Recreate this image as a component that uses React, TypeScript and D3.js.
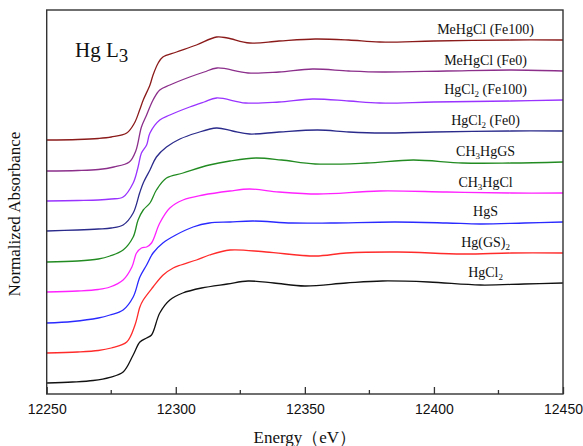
import React, { useRef, useEffect } from "react";
import * as d3 from "d3";

// spectra, bottom to top; each one is [energy (eV), normalized absorbance]
const names = [
  "HgCl_2",
  "Hg(GS)_2",
  "HgS",
  "CH_3HgCl",
  "CH_3HgGS",
  "HgCl_2 (Fe0)",
  "HgCl_2 (Fe100)",
  "MeHgCl (Fe0)",
  "MeHgCl (Fe100)",
];
const colors = ["#111111", "#ff2a2a", "#2a2aff", "#ff22ff", "#228b22", "#2b2b8c", "#9933ff", "#8b2f8b", "#8b1a1a"];
const offsets = [0, 0.3, 0.6, 0.91, 1.21, 1.52, 1.82, 2.12, 2.43];

const hgcl2 = [[12250,0],[12260,0.01],[12268,0.025],[12274.5,0.057],[12279.6,0.11],[12283.5,0.28],[12286.1,0.41],[12288.7,0.45],[12290.6,0.48],[12293.8,0.7],[12297.7,0.83],[12302.7,0.9],[12310,0.95],[12320,0.99],[12328,1.02],[12338,1.0],[12350,0.97],[12366,1.0],[12380,1.02],[12398,1.01],[12418,0.98],[12435,0.99],[12450,1.0]];
const hgGs2 = [[12250,0],[12262,0.01],[12270,0.025],[12275,0.05],[12281,0.11],[12284.2,0.28],[12286.1,0.46],[12287.4,0.53],[12291.2,0.66],[12295.1,0.78],[12299,0.85],[12302,0.88],[12308,0.93],[12313,0.98],[12321,1.03],[12335,1.01],[12354,0.97],[12366,1.0],[12386,1.01],[12411,0.99],[12430,1.0],[12450,1.0]];
const hgS = [[12250,0],[12260,0.015],[12270,0.05],[12274.5,0.08],[12279.6,0.13],[12283.5,0.26],[12286.1,0.46],[12288.7,0.58],[12291.2,0.7],[12295,0.8],[12300,0.88],[12306.7,0.96],[12313,1.0],[12321,1.01],[12330,1.02],[12345,1.0],[12360,1.0],[12385,1.01],[12405,1.0],[12418,0.99],[12435,1.0],[12450,1.01]];
const ch3HgCl = [[12250,0],[12262,0.01],[12270,0.025],[12274.5,0.05],[12279.6,0.12],[12283,0.25],[12284.8,0.39],[12286.7,0.44],[12288.7,0.45],[12290.6,0.49],[12293.8,0.69],[12297.7,0.84],[12302.8,0.92],[12310.6,0.97],[12321,1.01],[12328.6,1.03],[12340,1.0],[12355,0.98],[12379,1.01],[12405,1.0],[12430,0.99],[12450,0.99]];
const ch3HgGs = [[12250,0],[12262,0.01],[12270,0.03],[12274.5,0.06],[12279.6,0.12],[12283.5,0.25],[12285.4,0.42],[12287.4,0.52],[12290,0.59],[12292.5,0.72],[12296.4,0.84],[12302.8,0.89],[12313,0.97],[12321,1.01],[12331,1.04],[12341,1.02],[12354,0.98],[12374,0.99],[12392,1.02],[12411,0.99],[12430,0.99],[12450,1.0]];
const hgcl2Fe0 = [[12250,0],[12262,0.01],[12270,0.02],[12275,0.03],[12279.6,0.06],[12283.5,0.18],[12286,0.38],[12287.4,0.48],[12290,0.61],[12292.5,0.74],[12296.4,0.84],[12301.6,0.92],[12308,0.98],[12315.8,1.03],[12322,1.0],[12328.6,0.97],[12340,0.99],[12355,1.01],[12367,0.99],[12380,0.98],[12400,0.99],[12430,1.0],[12450,1.0]];
const hgcl2Fe100 = [[12250,0],[12262,0.005],[12270,0.01],[12275,0.02],[12279.6,0.04],[12283.5,0.18],[12285.4,0.34],[12286.7,0.48],[12288.7,0.56],[12290,0.68],[12293.8,0.81],[12297.7,0.86],[12305.4,0.94],[12311,0.99],[12315.8,1.03],[12327,0.98],[12340,0.99],[12353,1.02],[12367,1.0],[12379,0.98],[12400,0.99],[12430,1.0],[12450,1.01]];
const meHgClFe0 = [[12250,0],[12262,0.005],[12270,0.015],[12276,0.04],[12282,0.09],[12284.5,0.2],[12286.7,0.44],[12288.7,0.56],[12291.2,0.71],[12293.8,0.81],[12297.7,0.86],[12305.4,0.94],[12311,0.99],[12316,1.03],[12328,0.98],[12340,0.99],[12353,1.02],[12367,1.0],[12380,0.99],[12405,1.0],[12430,1.01],[12450,1.0]];
const meHgClFe100 = [[12250,0],[12262,0.005],[12270,0.015],[12275,0.03],[12281,0.07],[12284,0.17],[12286,0.3],[12287.4,0.4],[12290,0.55],[12291.2,0.65],[12293.2,0.77],[12295,0.83],[12300.3,0.88],[12308,0.95],[12315.8,1.03],[12320,1.02],[12328.6,0.97],[12340,0.99],[12354,1.01],[12367,1.0],[12379,0.98],[12400,0.99],[12430,1.0],[12450,1.0]];

const spectra = [hgcl2, hgGs2, hgS, ch3HgCl, ch3HgGs, hgcl2Fe0, hgcl2Fe100, meHgClFe0, meHgClFe100];

const majorTicks = [12250, 12300, 12350, 12400, 12450];
const minorTicks = [12275, 12325, 12375, 12425];
const labelEnergy = 12420;

const serif = "'Times New Roman', 'Liberation Serif', serif";

const App = () => {
  const svgRef = useRef<SVGSVGElement>(null);

  useEffect(() => {
    const width = 583;
    const height = 446;
    const left = 46.7;
    const right = 563;
    const top = 10;
    const bottom = 394;

    const svg = d3.select(svgRef.current);
    svg.selectAll("*").remove();
    svg.attr("width", width).attr("height", height);

    const x = d3.scaleLinear().domain([12250, 12450]).range([left, right]);
    const y = d3.scaleLinear().domain([-0.11, 3.73]).range([bottom, top]);

    const clip = svg.append("clipPath").attr("id", "plot-clip");
    clip.append("rect").attr("x", left).attr("y", top).attr("width", right - left).attr("height", bottom - top);

    const line = d3
      .line<number[]>()
      .x((d) => x(d[0]))
      .y((d) => y(d[1]))
      .curve(d3.curveCatmullRom.alpha(0.5));

    // stacked spectra
    svg
      .append("g")
      .attr("clip-path", "url(#plot-clip)")
      .selectAll("path")
      .data(spectra)
      .enter()
      .append("path")
      .attr("d", (d, i) => line(d.map((p) => [p[0], p[1] + offsets[i]])))
      .attr("fill", "none")
      .attr("stroke", (d, i) => colors[i])
      .attr("stroke-width", 1.3)
      .attr("stroke-linejoin", "round");

    // curve labels, "_" marks a subscript character
    const labels = svg.append("g").attr("font-family", serif).attr("font-size", 14).attr("fill", "#111");
    names.forEach((name, i) => {
      const end = spectra[i][spectra[i].length - 1][1];
      const t = labels
        .append("text")
        .attr("x", x(labelEnergy))
        .attr("y", y(offsets[i] + end) - 6)
        .attr("text-anchor", "middle");
      const parts = name.split(/_(.)/);
      parts.forEach((part, k) => {
        if (!part) return;
        if (k % 2 === 1) {
          t.append("tspan").attr("font-size", 9).attr("dy", 3).text(part);
        } else {
          t.append("tspan").attr("dy", k > 0 ? -3 : 0).text(part);
        }
      });
    });

    // Hg L3 edge label
    const edge = svg.append("text").attr("x", x(12261)).attr("y", 57).attr("font-family", serif).attr("font-size", 21).attr("fill", "#111");
    edge.append("tspan").text("Hg L");
    edge.append("tspan").attr("dy", 5).attr("font-size", 19).text("3");

    // bottom axis, ticks pointing inward
    const axis = svg.append("g").attr("transform", `translate(0,${bottom})`);
    axis
      .call(d3.axisBottom(x).tickValues(majorTicks).tickSizeInner(-7).tickSizeOuter(0).tickPadding(10).tickFormat(d3.format("d")))
      .call((g) => g.select(".domain").remove());
    axis.selectAll("line").attr("stroke", "#333").attr("stroke-width", 1.3);
    axis.selectAll("text").attr("font-family", "Arial, 'Liberation Sans', sans-serif").attr("font-size", 14).attr("fill", "#111");

    svg
      .append("g")
      .selectAll("line")
      .data(minorTicks)
      .enter()
      .append("line")
      .attr("x1", (d) => x(d))
      .attr("x2", (d) => x(d))
      .attr("y1", bottom)
      .attr("y2", bottom - 4)
      .attr("stroke", "#333")
      .attr("stroke-width", 1.3);

    // frame
    svg
      .append("rect")
      .attr("x", left)
      .attr("y", top)
      .attr("width", right - left)
      .attr("height", bottom - top)
      .attr("fill", "none")
      .attr("stroke", "#333")
      .attr("stroke-width", 1.4);

    // axis titles
    svg
      .append("text")
      .attr("x", (left + right) / 2)
      .attr("y", 443)
      .attr("text-anchor", "middle")
      .attr("font-family", serif)
      .attr("font-size", 17)
      .attr("fill", "#111")
      .text("Energy（eV）");

    svg
      .append("text")
      .attr("transform", `translate(20,${214}) rotate(-90)`)
      .attr("text-anchor", "middle")
      .attr("font-family", serif)
      .attr("font-size", 17)
      .attr("fill", "#111")
      .text("Normalized Absorbance");
  }, []);

  return (
    <div style={{ position: "absolute", left: 0, top: 0, background: "#fff" }}>
      <svg ref={svgRef}></svg>
    </div>
  );
};

export default App;
